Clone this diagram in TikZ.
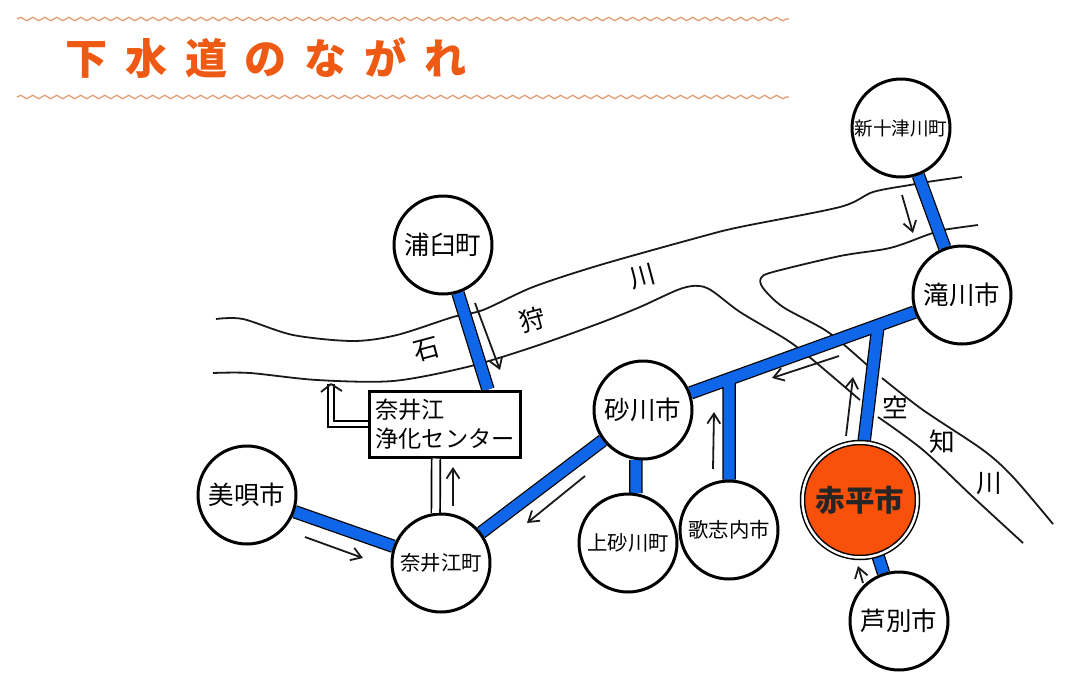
\documentclass[tikz,border=0pt]{standalone}
\usepackage{fontspec}
\setmainfont{Noto Sans CJK JP}
\newfontfamily\titlefont[LetterSpace=42]{Noto Sans CJK JP}
\usetikzlibrary{calc,arrows.meta,backgrounds,decorations.pathmorphing}
\definecolor{pipeblue}{HTML}{1066E8}
\definecolor{cityorange}{HTML}{F9500A}
\definecolor{titleorange}{HTML}{EE5A14}
\definecolor{waveorange}{HTML}{E39A70}
\tikzset{
	station/.style={circle,draw,line width=0.06cm,fill=white,inner sep=0pt,minimum size=1.96cm},
	wave/.style={draw=waveorange,line width=0.025cm,decorate,decoration={snake,segment length=0.24cm,amplitude=0.035cm}},
	bank/.style={line width=0.036cm,black!90},
	flow/.style={line width=0.036cm,black!90,-{Straight Barb[length=0.2cm,width=0.26cm]}},
	plantline/.style={line width=0.034cm,double=white},
	rivername/.style={inner sep=0pt,font=\fontsize{14.6pt}{16pt}\selectfont,black},
}
\begin{document}
\begin{tikzpicture}[x=0.02cm,y=-0.02cm]
			\useasboundingbox (0,0) rectangle (1075,684);
			\coordinate (waveAl) at (17,19);
			\coordinate (waveAr) at (789,19);
			\coordinate (waveBl) at (17,97);
			\coordinate (waveBr) at (789,97);
			\draw[wave] (waveAl)--(waveAr);
			\draw[wave] (waveBl)--(waveBr);
			\node[anchor=west,inner sep=0pt,text=titleorange,font=\titlefont\bfseries\fontsize{24pt}{26pt}\selectfont] (title) at (65,58) {下水道のながれ};
			
			\foreach \n/\x/\y/\s/\t in {
				shintotsukawa/901/128/10.6/新十津川町,
				takikawa/962/295/14.5/滝川市,
				urausu/443/245/14.5/浦臼町,
				sunagawa/643/410/14.5/砂川市,
				kamisunagawa/628/543/11.6/上砂川町,
				utashinai/729/530/11.6/歌志内市,
				ashibetsu/899/621/14.5/芦別市,
				bibai/247/495/14.5/美唄市,
				naiecho/441/563/11.6/奈井江町} {
				\node[station,font=\fontsize{\s pt}{16pt}\selectfont,text=black] (\n) at (\x,\y) {\t};
			}
			\node[circle,draw,line width=0.03cm,double=white,double distance=0.05cm,fill=cityorange,inner sep=0pt,minimum size=2.3cm,font=\bfseries\fontsize{16.8pt}{18pt}\selectfont,text=black!85] (akabira) at (860,500) {赤平市};
			\node[draw,line width=0.06cm,fill=white,minimum width=3.04cm,minimum height=1.32cm,inner sep=0pt,align=left,font=\fontsize{13.2pt}{16.5pt}\selectfont,text=black] (plant) at (445,424) {奈井江\\浄化センター};
			
			\coordinate (plantin) at ([xshift=0.86cm]plant.north);
			\coordinate (juncA) at ($(takikawa)!0.263!(sunagawa)$);
			\coordinate (juncB) at ($(takikawa)!0.73!(sunagawa)$);
			\coordinate (outfall) at (331,384);
			
			\begin{scope}[on background layer]
				\draw[bank] plot[smooth] coordinates {(216,319) (243,319) (293,335) (353,341) (397,335) (453,317) (483,310) (533,287) (600,265) (700,237) (740,227) (840,207) (873,192) (910,185) (927,182) (962,177)};
				\draw[bank] plot[smooth] coordinates {(213,373) (250,373) (317,380) (393,381) (467,367) (533,347) (600,323) (640,307) (683,288) (707,288) (740,312) (787,340) (813,360) (860,400)};
				\draw[bank] plot[smooth] coordinates {(878,417) (923,450) (973,497) (1023,543)};
				\draw[bank] plot[smooth] coordinates {(978,225) (943,230) (927,235) (890,248) (840,256) (773,272) (761,278) (763,288) (783,307) (828,332) (867,365)};
				\draw[bank] plot[smooth] coordinates {(882,378) (923,410) (983,450) (1013,477) (1053,524)};
				
				\foreach \col/\wid in {black/0.27cm, pipeblue/0.22cm} {
					\foreach \a/\b in {shintotsukawa/takikawa, takikawa/sunagawa, juncA/akabira.86, juncB/utashinai.90, sunagawa.-98/kamisunagawa.81, sunagawa/naiecho, bibai/naiecho, urausu/plantin, akabira/ashibetsu} {
						\draw[\col,line width=\wid] (\a)--(\b);
					}
				}
			\end{scope}
			
			\draw[plantline,double distance=0.14cm] ([xshift=-0.18cm]plant.south)--(naiecho.96);
			\draw[plantline,double distance=0.09cm] (plant.west)-|(outfall);
			\draw[line width=0.036cm,black!90,line join=round] (321,392)--(outfall)--(342,391);
			
			\draw[flow] (475,303)--(500,370);
			\draw[flow] (902,195)--(913,233);
			\draw[flow] (839,356)--(772,378);
			\draw[flow] (846,436)--(853,377);
			\draw[flow] (713,469)--(714,412);
			\draw[flow] (585,476)--(527,523);
			\draw[flow] (305,537)--(363,558);
			\draw[flow] (453,506)--(453,467);
			\draw[flow] (863,583)--(858,566);
			
			\foreach \p/\x/\y/\r/\t in {ishi/427/350/15/石, kari/532/320/15/狩, kawaA/643/277/15/川, sora/895/407/0/空, chi/942/442/0/知, kawaB/989/484/0/川} {
				\node[rivername,rotate=\r] (\p) at (\x,\y) {\t};
			}
		\end{tikzpicture}
\end{document}
